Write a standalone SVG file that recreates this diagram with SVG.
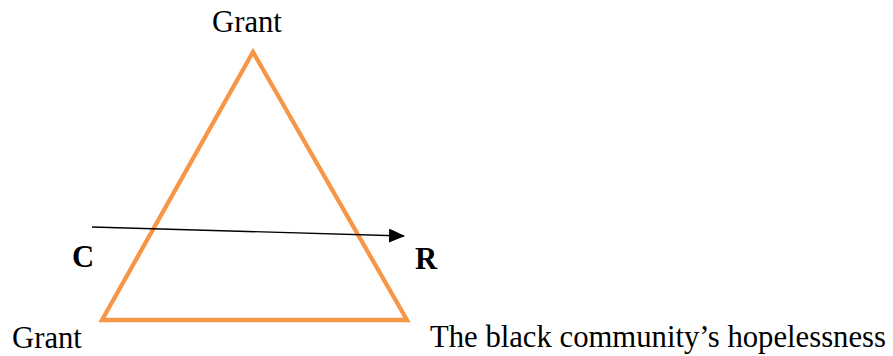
<svg xmlns="http://www.w3.org/2000/svg" width="893" height="356" viewBox="0 0 893 356">
<style>
.t{font-family:"Liberation Serif","Times New Roman",serif;font-size:30.7px;fill:#000}
.b{font-weight:bold}
</style>
<defs>
<marker id="ah" markerWidth="16" markerHeight="14" refX="15" refY="7" orient="auto" markerUnits="userSpaceOnUse">
<path d="M0,0 L16,7 L0,14 Z" fill="#000"/>
</marker>
</defs>
<rect width="893" height="356" fill="#fff"/>
<g id="triangle">
<polygon points="253,52 102,320 407,320" fill="none" stroke="#F79646" stroke-width="4.3" stroke-linejoin="miter"/>
</g>
<g id="connectors">
<line x1="92" y1="227" x2="404" y2="236" stroke="#000" stroke-width="1.3" marker-end="url(#ah)"/>
</g>
<g id="node-top"><text class="t" x="212" y="32">Grant</text></g>
<g id="node-left"><text class="t" x="12" y="348">Grant</text></g>
<g id="node-right"><text class="t" x="430" y="347">The black community’s hopelessness</text></g>
<g id="label-c"><text class="t b" x="72" y="267">C</text></g>
<g id="label-r"><text class="t b" x="415" y="269">R</text></g>
</svg>
